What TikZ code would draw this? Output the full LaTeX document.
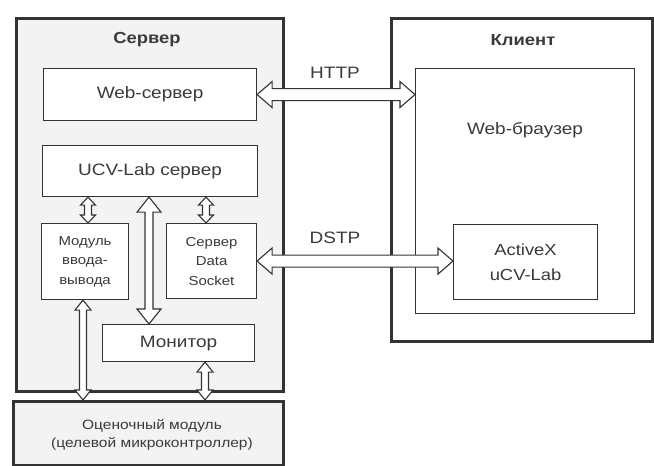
\documentclass[tikz,border=0pt]{standalone}
\usepackage{fontspec}
\setmainfont{Liberation Sans}[FakeStretch=1.15]
\usetikzlibrary{calc}
\definecolor{linec}{HTML}{333333}
\definecolor{txt}{HTML}{3A3A3A}
\definecolor{panel}{HTML}{F3F3F3}
\newcommand\vdarr[5]{% #1 top, #2 bottom, #3 shaft half, #4 head half, #5 head length
  \draw[dar] let \p1=#1, \p2=#2 in
    (\x1,\y1) -- (\x1+#4,\y1-#5) -- (\x1+#3,\y1-#5) -- (\x1+#3,\y2+#5) -- (\x1+#4,\y2+#5)
    -- (\x1,\y2) -- (\x1-#4,\y2+#5) -- (\x1-#3,\y2+#5) -- (\x1-#3,\y1-#5) -- (\x1-#4,\y1-#5) -- cycle;}
\newcommand\hdarr[5]{% #1 left, #2 right
  \draw[dar] let \p1=#1, \p2=#2 in
    (\x1,\y1) -- (\x1+#5,\y1+#4) -- (\x1+#5,\y1+#3) -- (\x2-#5,\y1+#3) -- (\x2-#5,\y1+#4)
    -- (\x2,\y1) -- (\x2-#5,\y1-#4) -- (\x2-#5,\y1-#3) -- (\x1+#5,\y1-#3) -- (\x1+#5,\y1-#4) -- cycle;}
\tikzset{
  box/.style={draw=linec, line width=1.1pt, fill=white, anchor=north west, inner sep=0pt,
    align=center, font=\fontsize{16.5}{19}\selectfont, text=txt},
  smallbox/.style={box, font=\fontsize{13}{19.5}\selectfont},
  outer/.style={draw=linec, line width=3pt, anchor=north west, inner sep=0pt},
  lbl/.style={text=txt, font=\fontsize{16.5}{19}\selectfont},
  blbl/.style={text=txt, font=\bfseries\fontsize{16}{19}\selectfont},
  dar/.style={draw=linec, line width=1.1pt, fill=white, line join=miter},
}
\begin{document}
\begin{tikzpicture}[x=1pt,y=-1pt]
\useasboundingbox[fill=white] (0,0) rectangle (654,466);
% outer boxes
\node[outer, fill=panel, minimum width=267pt, minimum height=373pt] (server) at (15,17) {};
\node[outer, fill=white, minimum width=261pt, minimum height=323pt] (client) at (390,17) {};
\node[outer, fill=panel, minimum width=270pt, minimum height=64pt] (eval) at (12,400) {};
\node[text=txt, align=center, font=\fontsize{13.5}{18}\selectfont] (evaltext) at (152,435)
  {Оценочный модуль\\(целевой микроконтроллер)};
\node[blbl] (srvlbl) at (147,40) {Сервер};
\node[blbl] (clilbl) at (523,40) {Клиент};
% server inner
\node[box, minimum width=213pt, minimum height=52pt] (web) at (43,68) {Web-сервер};
\node[box, minimum width=215pt, minimum height=51pt] (ucv) at (42,145) {UCV-Lab сервер};
\node[smallbox, minimum width=87pt, minimum height=76pt] (mod) at (41,223) {Модуль\\ввода-\\вывода};
\node[smallbox, minimum width=90pt, minimum height=75pt] (ds) at (166,223) {Сервер\\Data\\Socket};
\node[box, minimum width=152pt, minimum height=37pt] (mon) at (102,324) {Монитор};
% client inner
\node[box, minimum width=219pt, minimum height=245pt] (br) at (415,68) {};
\node[lbl] (brtext) at (525,130) {Web-браузер};
\node[box, minimum width=144pt, minimum height=75pt, font=\fontsize{16}{25}\selectfont] (ax) at (453,224) {ActiveX\\uCV-Lab};
% labels
\node[lbl] (http) at (335,73) {HTTP};
\node[lbl] (dstp) at (335,238) {DSTP};
% arrow axes
\coordinate (c1) at (88,0);
\coordinate (c2) at (206,0);
\coordinate (c3) at (149,0);
\coordinate (c4) at (83,0);
\coordinate (c5) at (205,0);
% arrows
\vdarr{(c1 |- ucv.south)}{(c1 |- mod.north)}{3.5pt}{7.5pt}{8pt}
\vdarr{(c2 |- ucv.south)}{(c2 |- ds.north)}{3.5pt}{7.5pt}{8pt}
\vdarr{(c3 |- ucv.south)}{(c3 |- mon.north)}{4pt}{12pt}{15pt}
\vdarr{(c4 |- mod.south)}{(c4 |- eval.north)}{3.5pt}{8pt}{10pt}
\vdarr{(c5 |- mon.south)}{(c5 |- eval.north)}{3.5pt}{8pt}{10pt}
\hdarr{(web.east)}{(br.west |- web.east)}{6pt}{13pt}{15pt}
\hdarr{(ds.east)}{(ax.west |- ds.east)}{6pt}{13pt}{15pt}
\end{tikzpicture}
\end{document}
